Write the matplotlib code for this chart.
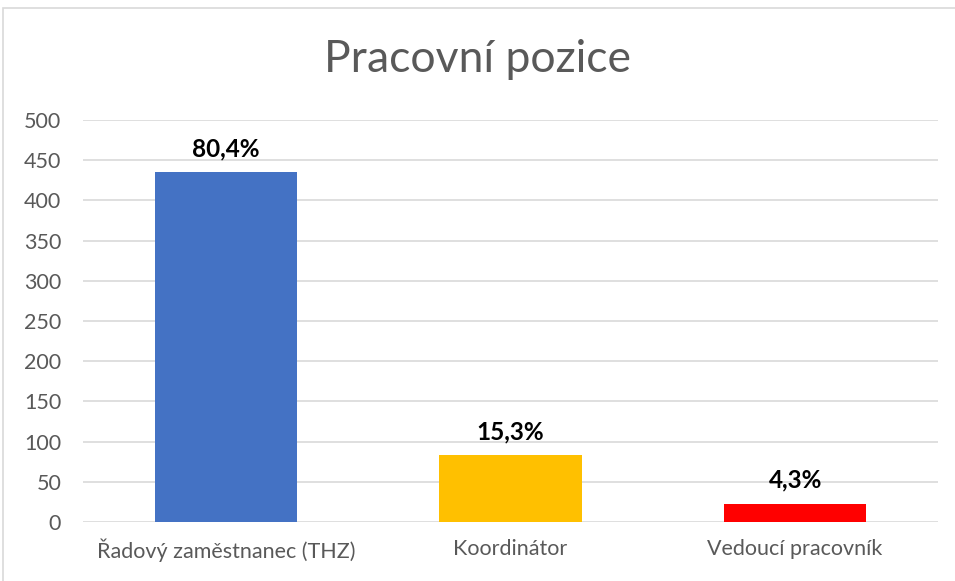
import matplotlib.pyplot as plt
from matplotlib.patches import Rectangle

categories = ["Řadový zaměstnanec (THZ)", "Koordinátor", "Vedoucí pracovník"]
counts = [435, 83, 23]
pct_labels = ["80,4%", "15,3%", "4,3%"]
colors = ["#4472C4", "#FFC000", "#FF0000"]
yticks = [0, 50, 100, 150, 200, 250, 300, 350, 400, 450, 500]

plt.rcParams['font.family'] = ['Lato', 'DejaVu Sans']

fig = plt.figure(figsize=(9.55, 5.81), dpi=100)
ax = fig.add_axes([0.0874, 0.1015, 0.8943, 0.692])

x = range(len(categories))
ax.bar(x, counts, width=0.5, color=colors, zorder=3)

for xi, v, lab in zip(x, counts, pct_labels):
    ax.text(xi, v + 15, lab, ha="center", va="bottom", fontsize=17.5,
            fontweight="bold", color="black")

ax.set_xlim(-0.5, 2.5)
ax.set_ylim(0, 500)
ax.set_yticks(yticks)
ax.set_xticks(list(x))
ax.set_xticklabels(categories)
ax.grid(axis="y", color="#D9D9D9", linewidth=1.2, zorder=0)
for s in ax.spines.values():
    s.set_visible(False)
ax.tick_params(length=0, labelsize=15.5, colors="#595959")
ax.tick_params(axis="y", pad=16)
ax.tick_params(axis="x", labelsize=15.5, pad=12)

fig.text(0.5, 0.897, "Pracovní pozice", ha="center", va="center",
         fontsize=32, color="#595959")

fig.patches.append(Rectangle((3 / 955, -0.01), 1.0, 1 - 8 / 581 + 0.01,
                             transform=fig.transFigure, fill=False,
                             edgecolor="#D9D9D9", linewidth=1.2))

fig.savefig("out.png", dpi=100)
